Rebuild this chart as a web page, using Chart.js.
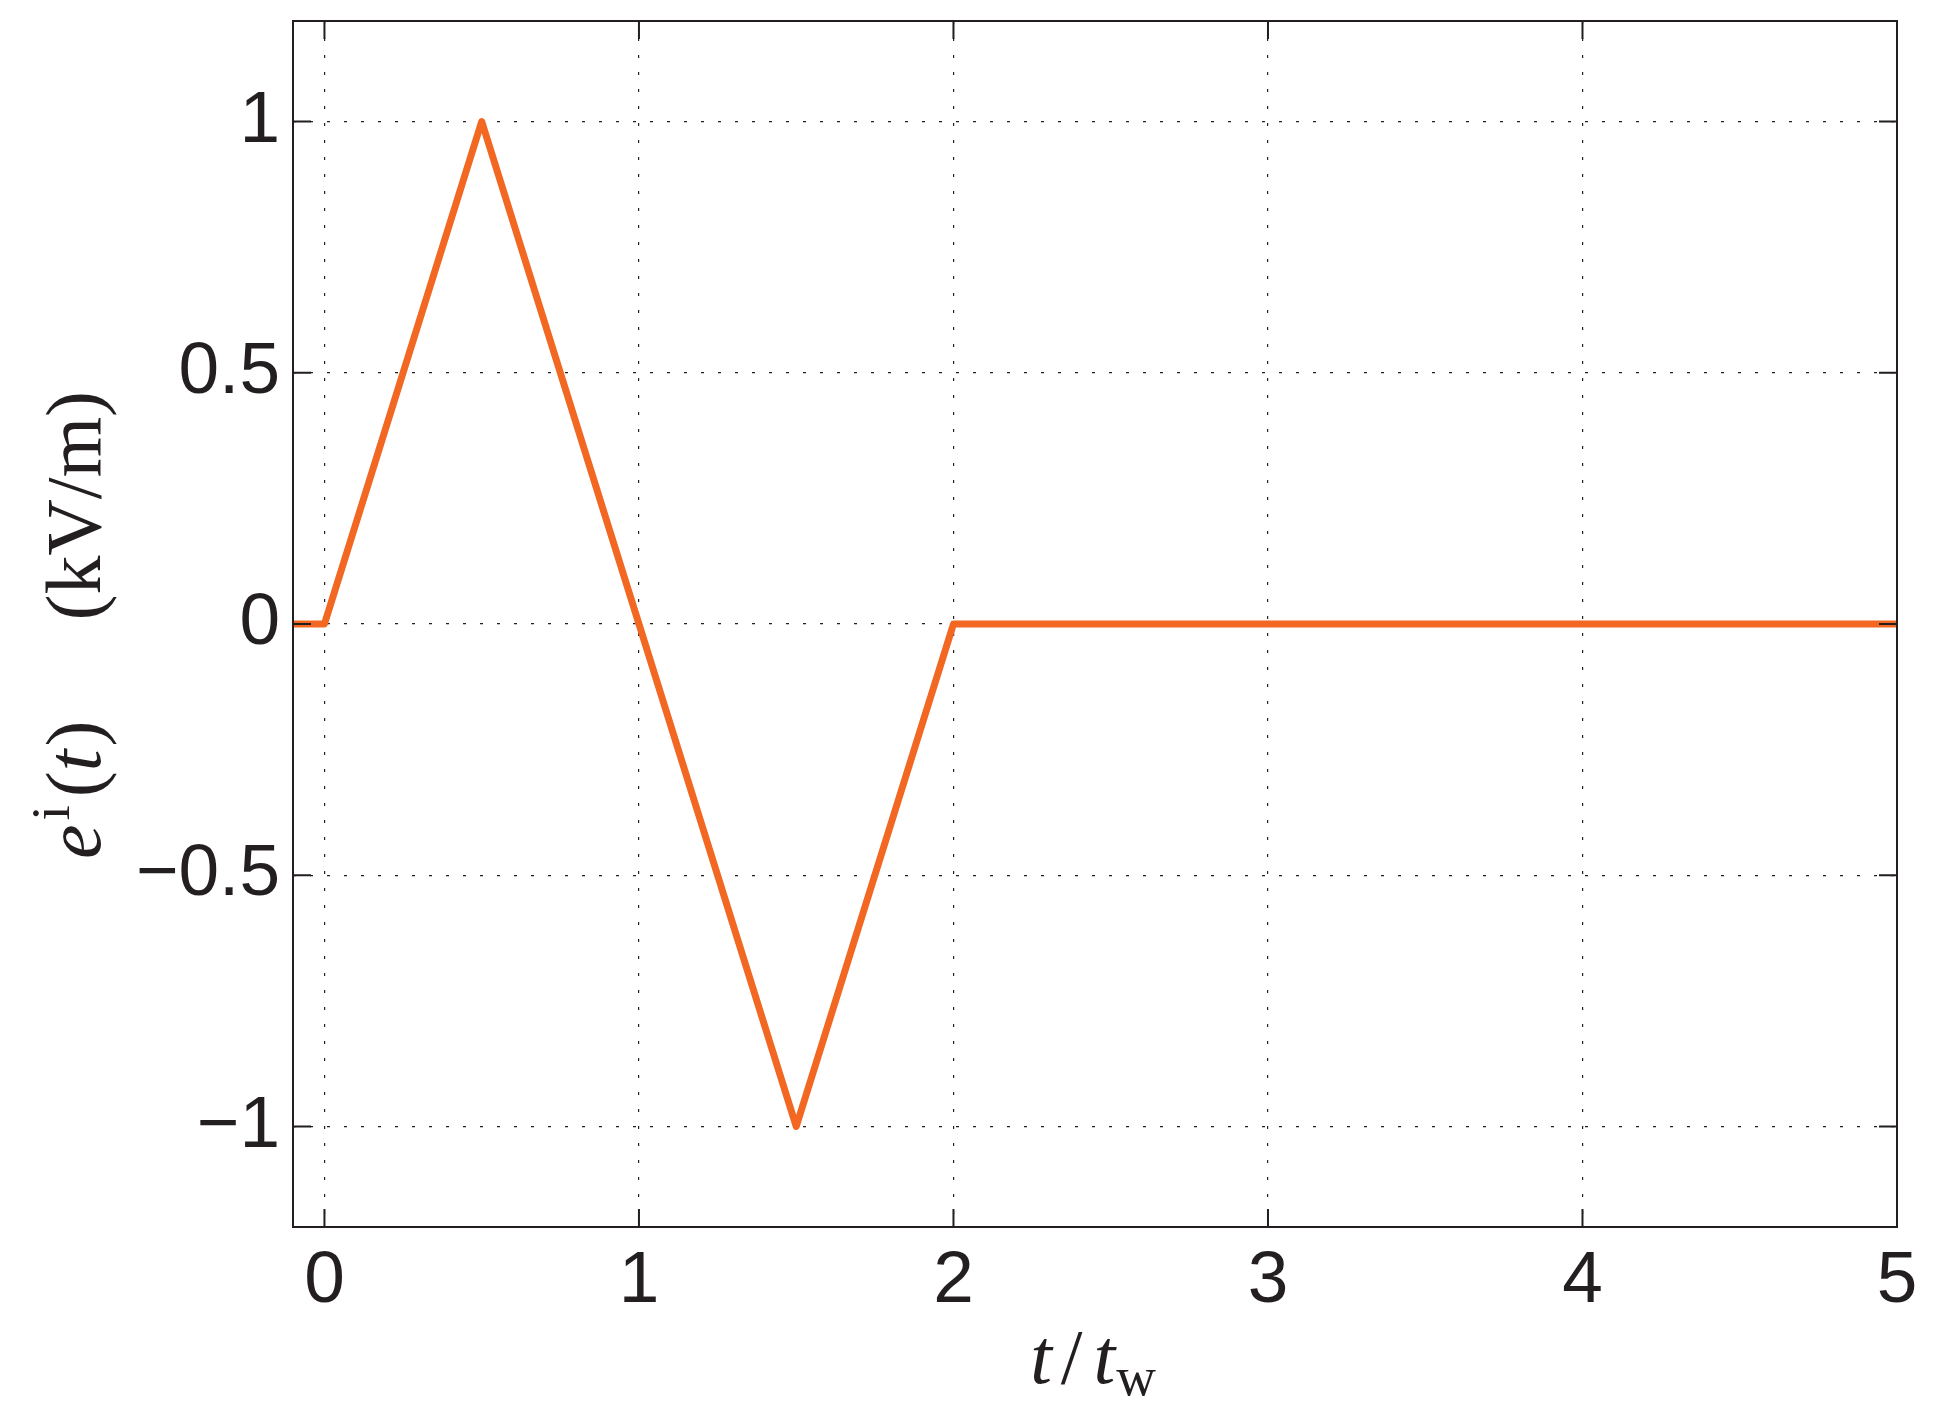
<!DOCTYPE html>
<html><head><meta charset="utf-8">
<script src="https://cdn.jsdelivr.net/npm/chart.js@4.4.1/dist/chart.umd.min.js"></script>
<style>html,body{margin:0;padding:0;background:#fff;}</style>
</head><body>
<canvas id="c" width="1938" height="1419"></canvas>
<script>
// ---- data ----
const timeValues  = [-0.1, 0, 0.5, 1.5, 2, 5];
const fieldValues = [0, 0, 1, -1, 0, 0];
const xTicks = [0, 1, 2, 3, 4, 5];
const yTicks = [-1, -0.5, 0, 0.5, 1];
const xRange = [-0.1, 5];
const yRange = [-1.2, 1.2];

const ink = '#231f20';
const lineColor = '#f26722';
const serif = '"Liberation Serif", "Times New Roman", serif';
const sans = '"Liberation Sans", Arial, Helvetica, sans-serif';

function fmt(v) {
  const s = String(Math.abs(v));
  return v < 0 ? '\u2212' + s : s;
}

function drawRich(ctx, segs, cx, cy, rotate) {
  ctx.save();
  ctx.translate(cx, cy);
  if (rotate) ctx.rotate(-Math.PI / 2);
  ctx.fillStyle = ink;
  ctx.textBaseline = 'alphabetic';
  ctx.textAlign = 'left';
  let total = 0;
  const widths = segs.map(s => {
    if (s.gap) { total += s.gap; return s.gap; }
    ctx.font = s.font;
    const w = ctx.measureText(s.text).width + (s.after || 0);
    total += w;
    return w;
  });
  let x = -total / 2;
  segs.forEach((s, i) => {
    if (!s.gap) {
      ctx.font = s.font;
      ctx.fillText(s.text, x, s.dy || 0);
    }
    x += widths[i];
  });
  ctx.restore();
}

const titlePlugin = {
  id: 'titles',
  afterDraw(chart) {
    const ctx = chart.ctx;
    const F = 78, S = 55;
    drawRich(ctx, [
      { text: 'e', font: `italic ${F}px ${serif}`, after: 4 },
      { text: 'i', font: `${S}px ${serif}`, dy: -31, after: 8 },
      { text: '(', font: `${F}px ${serif}` },
      { text: 't', font: `italic ${F}px ${serif}`, after: 3 },
      { text: ')', font: `${F}px ${serif}` },
      { gap: 100 },
      { text: '(kV/m)', font: `${F}px ${serif}` }
    ], 100, 625, true);
    drawRich(ctx, [
      { text: 't', font: `italic ${F}px ${serif}`, after: 9 },
      { text: '/', font: `${F}px ${serif}`, after: 11 },
      { text: 't', font: `italic ${F}px ${serif}`, after: 1 },
      { text: 'w', font: `${S}px ${serif}`, dy: 12 }
    ], 1093, 1383, false);
  }
};

const framePlugin = {
  id: 'frame',
  afterDatasetsDraw(chart) {
    const { ctx, chartArea: a, scales: { x, y } } = chart;
    ctx.save();
    ctx.strokeStyle = ink;
    ctx.lineWidth = 2;
    ctx.setLineDash([]);
    ctx.strokeRect(a.left, a.top, a.right - a.left, a.bottom - a.top);
    ctx.beginPath();
    const L = 18;
    xTicks.forEach(v => {
      const px = x.getPixelForValue(v);
      ctx.moveTo(px, a.bottom); ctx.lineTo(px, a.bottom - L);
      ctx.moveTo(px, a.top); ctx.lineTo(px, a.top + L);
    });
    yTicks.forEach(v => {
      const py = y.getPixelForValue(v);
      ctx.moveTo(a.left, py); ctx.lineTo(a.left + L, py);
      ctx.moveTo(a.right, py); ctx.lineTo(a.right - L, py);
    });
    ctx.stroke();
    ctx.restore();
  }
};

Chart.defaults.color = ink;

new Chart(document.getElementById('c'), {
  type: 'line',
  data: {
    datasets: [{
      data: timeValues.map((t, i) => ({ x: t, y: fieldValues[i] })),
      borderColor: lineColor,
      borderWidth: 7,
      pointRadius: 0,
      tension: 0,
      fill: false,
      borderJoinStyle: 'round',
      borderCapStyle: 'butt'
    }]
  },
  options: {
    responsive: false,
    animation: false,
    devicePixelRatio: 1,
    layout: { padding: { top: 21, right: 41, left: 0, bottom: 0 } },
    plugins: { legend: { display: false }, tooltip: { enabled: false } },
    scales: {
      x: {
        type: 'linear',
        min: xRange[0], max: xRange[1],
        afterBuildTicks: s => { s.ticks = xTicks.map(v => ({ value: v })); },
        afterFit: s => { s.height = 192; s.paddingLeft = 0; s.paddingRight = 0; },
        ticks: { font: { family: sans, size: 73 }, color: ink, padding: 11, autoSkip: false, maxRotation: 0, callback: v => fmt(v) },
        grid: { color: ink, lineWidth: 1.2, drawTicks: false },
        border: { display: false, dash: [3, 14] }
      },
      y: {
        type: 'linear',
        min: yRange[0], max: yRange[1],
        afterBuildTicks: s => { s.ticks = yTicks.map(v => ({ value: v })); },
        afterFit: s => { s.width = 293; s.paddingTop = 0; s.paddingBottom = 0; },
        ticks: { font: { family: sans, size: 73 }, color: ink, padding: 13, autoSkip: false, callback: v => fmt(v) },
        grid: { color: ink, lineWidth: 1.2, drawTicks: false },
        border: { display: false, dash: [3, 14] }
      }
    }
  },
  plugins: [framePlugin, titlePlugin]
});
</script>
</body></html>
